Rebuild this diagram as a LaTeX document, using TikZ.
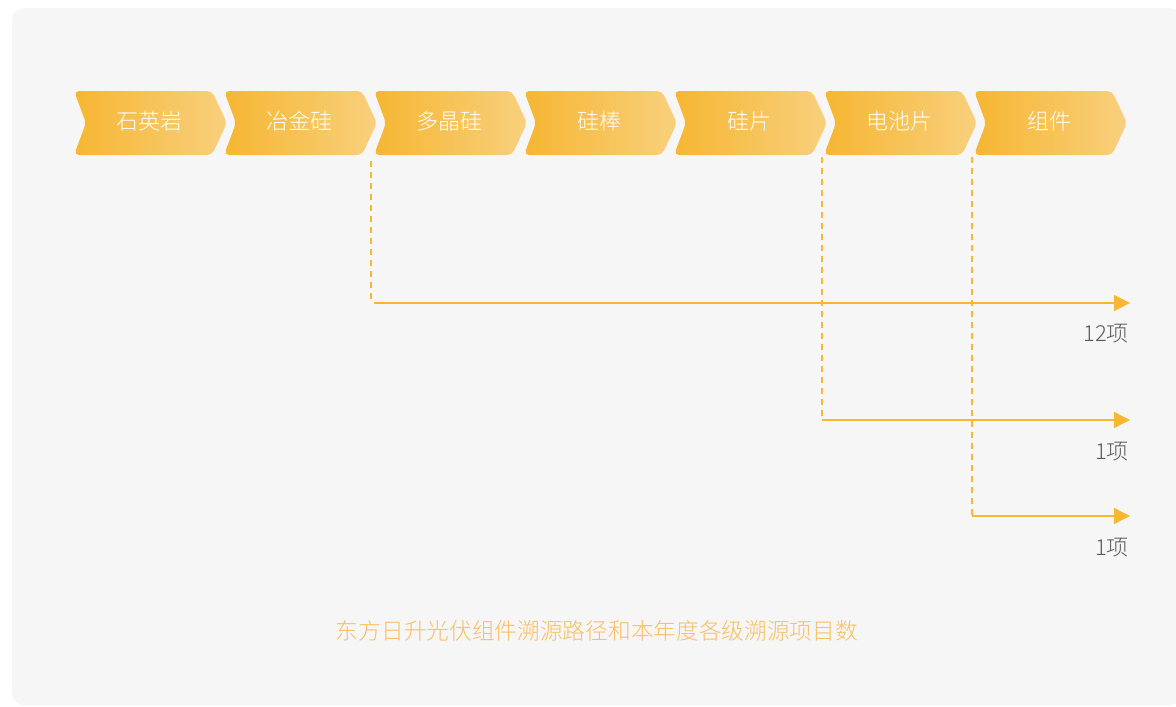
\documentclass[tikz,border=0pt]{standalone}
\usepackage{fontspec}
\setmainfont{Noto Sans CJK SC}[UprightFont={* Light}]
\usetikzlibrary{arrows.meta}
\definecolor{bgc}{HTML}{F6F6F6}
\definecolor{chl}{HTML}{F6B632}
\definecolor{chr}{HTML}{F8D07D}
\definecolor{linec}{HTML}{F7B733}
\definecolor{labc}{HTML}{5A5A5A}
\definecolor{capc}{HTML}{F8C062}
\tikzset{
  chevtext/.style={text=white, font=\fontsize{22}{26}\selectfont, inner sep=0pt},
  dashline/.style={linec, line width=1.1pt, dash pattern=on 6pt off 5pt},
  arrline/.style={linec, line width=1.4pt, -{Triangle[length=16pt,width=16pt]}},
  countlab/.style={text=labc, font=\fontsize{22}{26}\selectfont, anchor=east, inner sep=0pt},
}
\newcommand{\mychev}[3]{%
  \path[left color=chl, right color=chr, rounded corners=5pt]
    (#1,91) -- (#1+12,123) -- (#1,155) -- (#1+138,155) -- (#1+153,123) -- (#1+138,91) -- cycle;
  \node[chevtext] (#2) at (#1+75,121) {#3};
}
\begin{document}
\begin{tikzpicture}[x=1pt,y=-1pt]
\useasboundingbox (0,0) rectangle (1176,707);
\fill[white] (0,0) rectangle (1176,707);
\fill[bgc, rounded corners=12pt] (12,8) rectangle (1182,705);
\mychev{74}{c1}{石英岩}
\mychev{224}{c2}{冶金硅}
\mychev{374}{c3}{多晶硅}
\mychev{524}{c4}{硅棒}
\mychev{674}{c5}{硅片}
\mychev{824}{c6}{电池片}
\mychev{974}{c7}{组件}
% connectors
\coordinate (s2) at (371,161);
\coordinate (k2) at (371,303);
\coordinate (h2) at (374,303);
\coordinate (e2) at (1130,303);
\coordinate (s6) at (822,157);
\coordinate (k6) at (822,420);
\coordinate (e6) at (1130,420);
\coordinate (s7) at (972,157);
\coordinate (k7) at (972,516);
\coordinate (e7) at (1130,516);
\draw[dashline] (s2) -- (k2);
\draw[arrline] (h2) -- (e2);
\draw[dashline] (s6) -- (k6);
\draw[arrline] (k6) -- (e6);
\draw[dashline] (s7) -- (k7);
\draw[arrline] (k7) -- (e7);
\node[countlab] (n2) at (1129,334) {12项};
\node[countlab] (n6) at (1129,452) {1项};
\node[countlab] (n7) at (1129,548) {1项};
\node[text=capc, font=\fontsize{22.7}{26}\selectfont, inner sep=0pt] (cap) at (597,631) {东方日升光伏组件溯源路径和本年度各级溯源项目数};
\end{tikzpicture}
\end{document}
